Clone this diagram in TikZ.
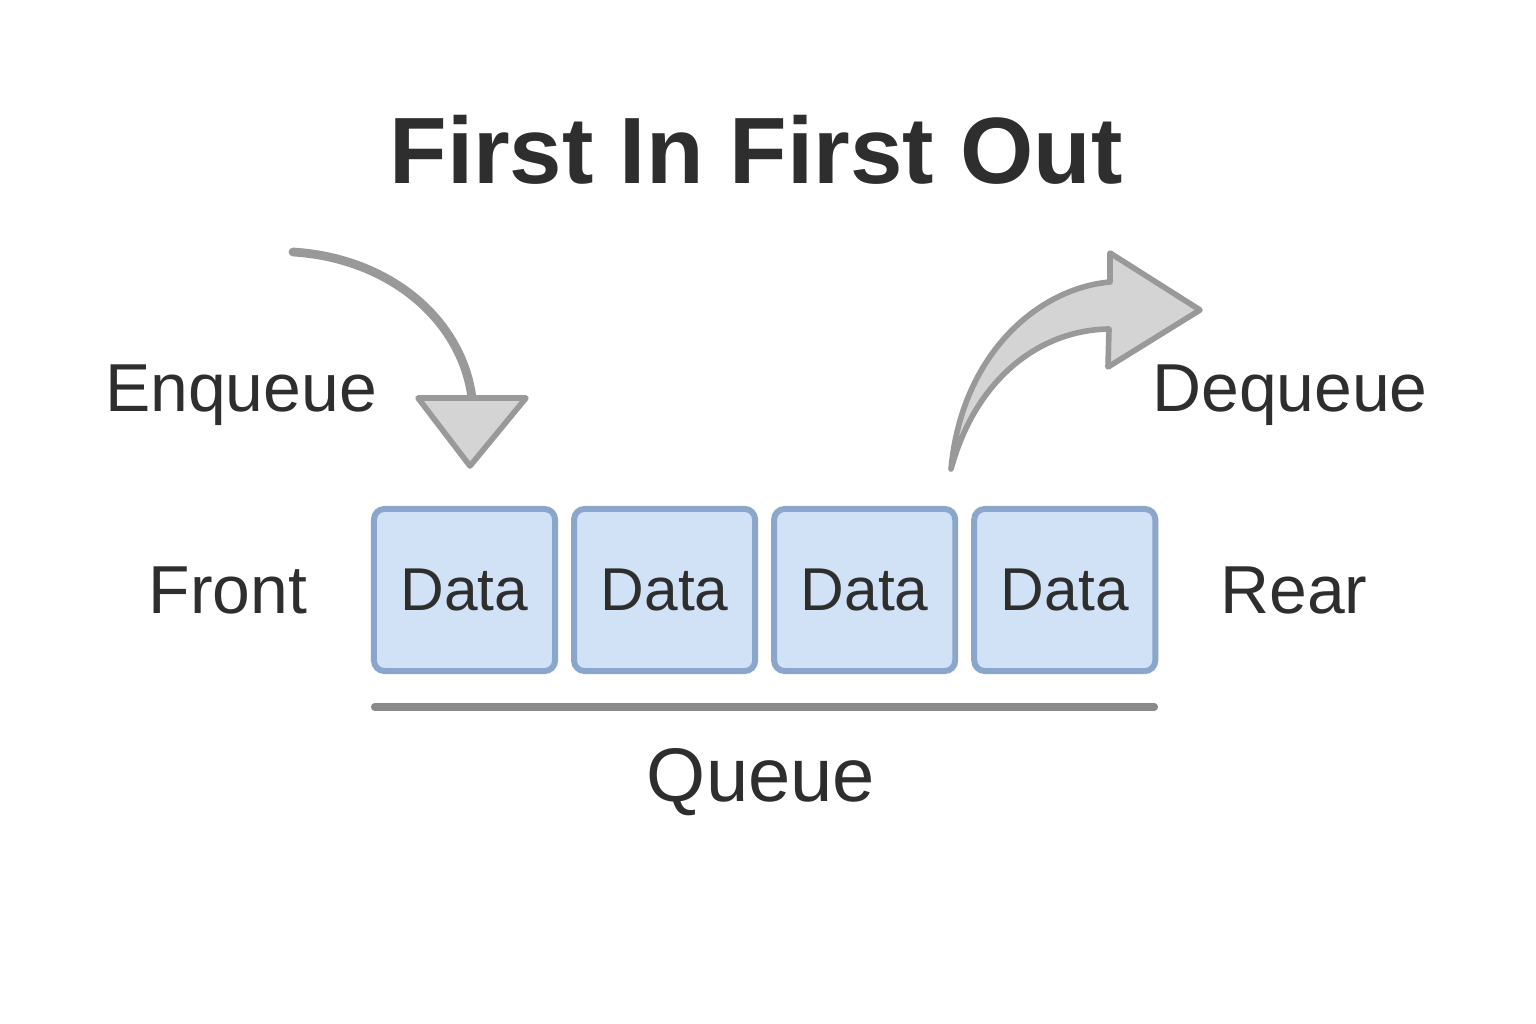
\documentclass[tikz,border=0pt]{standalone}
\usepackage{fontspec}
\setmainfont{Liberation Sans}
\usetikzlibrary{positioning}
\definecolor{ink}{HTML}{2E2E2E}
\definecolor{cellfill}{HTML}{D2E2F6}
\definecolor{celledge}{HTML}{8AA7CB}
\definecolor{arrowgray}{HTML}{999999}
\definecolor{arrowfill}{HTML}{D4D4D4}
\definecolor{shelfgray}{HTML}{8A8A8A}

\begin{document}
\begin{tikzpicture}[x=0.01cm, y=-0.01cm,
  headline/.style={text=ink, anchor=base, font=\fontsize{26.8}{32}\selectfont\bfseries},
  tag/.style={text=ink, anchor=base, font=\fontsize{19.3}{23}\selectfont},
  cell/.style={draw=celledge, fill=cellfill, line width=1.7pt, rounded corners=3pt,
    minimum width=1.81cm, minimum height=1.62cm, inner sep=0pt, text=ink,
    font=\fontsize{17.2}{20}\selectfont},
  shelf/.style={draw=shelfgray, line width=2pt, line cap=round},
  shaft/.style={draw=arrowgray, line width=2.5pt, line cap=round},
  head/.style={draw=arrowgray, fill=arrowfill, line width=1.6pt, line join=round}]
  \useasboundingbox (0,0) rectangle (1536,1024);

  \node[headline] (title) at (756,183) {First In First Out};

  \node[cell] (d1) at (464.5,590) {Data};
  \node[cell, right=0.13cm of d1] (d2) {Data};
  \node[cell, right=0.13cm of d2] (d3) {Data};
  \node[cell, right=0.13cm of d3] (d4) {Data};

  \node[tag] (front) at (228,613) {Front};
  \node[tag] (rear) at (1294,613) {Rear};
  \node[tag] (enq) at (241,411) {Enqueue};
  \node[tag] (deq) at (1290,411) {Dequeue};
  \node[tag, font=\fontsize{21.6}{26}\selectfont] (queue) at (761,801) {Queue};

  \coordinate (shelfL) at (374.5,707);
  \coordinate (shelfR) at (1154.5,707);
  \draw[shelf] (shelfL) -- (shelfR);

  % enqueue arrow
  \coordinate (inStart) at (293,252);
  \coordinate (inEnd) at (472,398);
  \draw[shaft] (inStart) .. controls (390,258) and (462,320) .. (inEnd);
  \filldraw[head] (418,398) -- (526,398) -- (470,466) -- cycle;

  % dequeue arrow
  \coordinate (outTail) at (951,469);
  \filldraw[head] (outTail) .. controls (962,352) and (1040,288) .. (1110,282)
    -- (1110,253) -- (1200,310) -- (1108,367) -- (1109,329)
    .. controls (1040,330) and (976,378) .. cycle;
\end{tikzpicture}
\end{document}
